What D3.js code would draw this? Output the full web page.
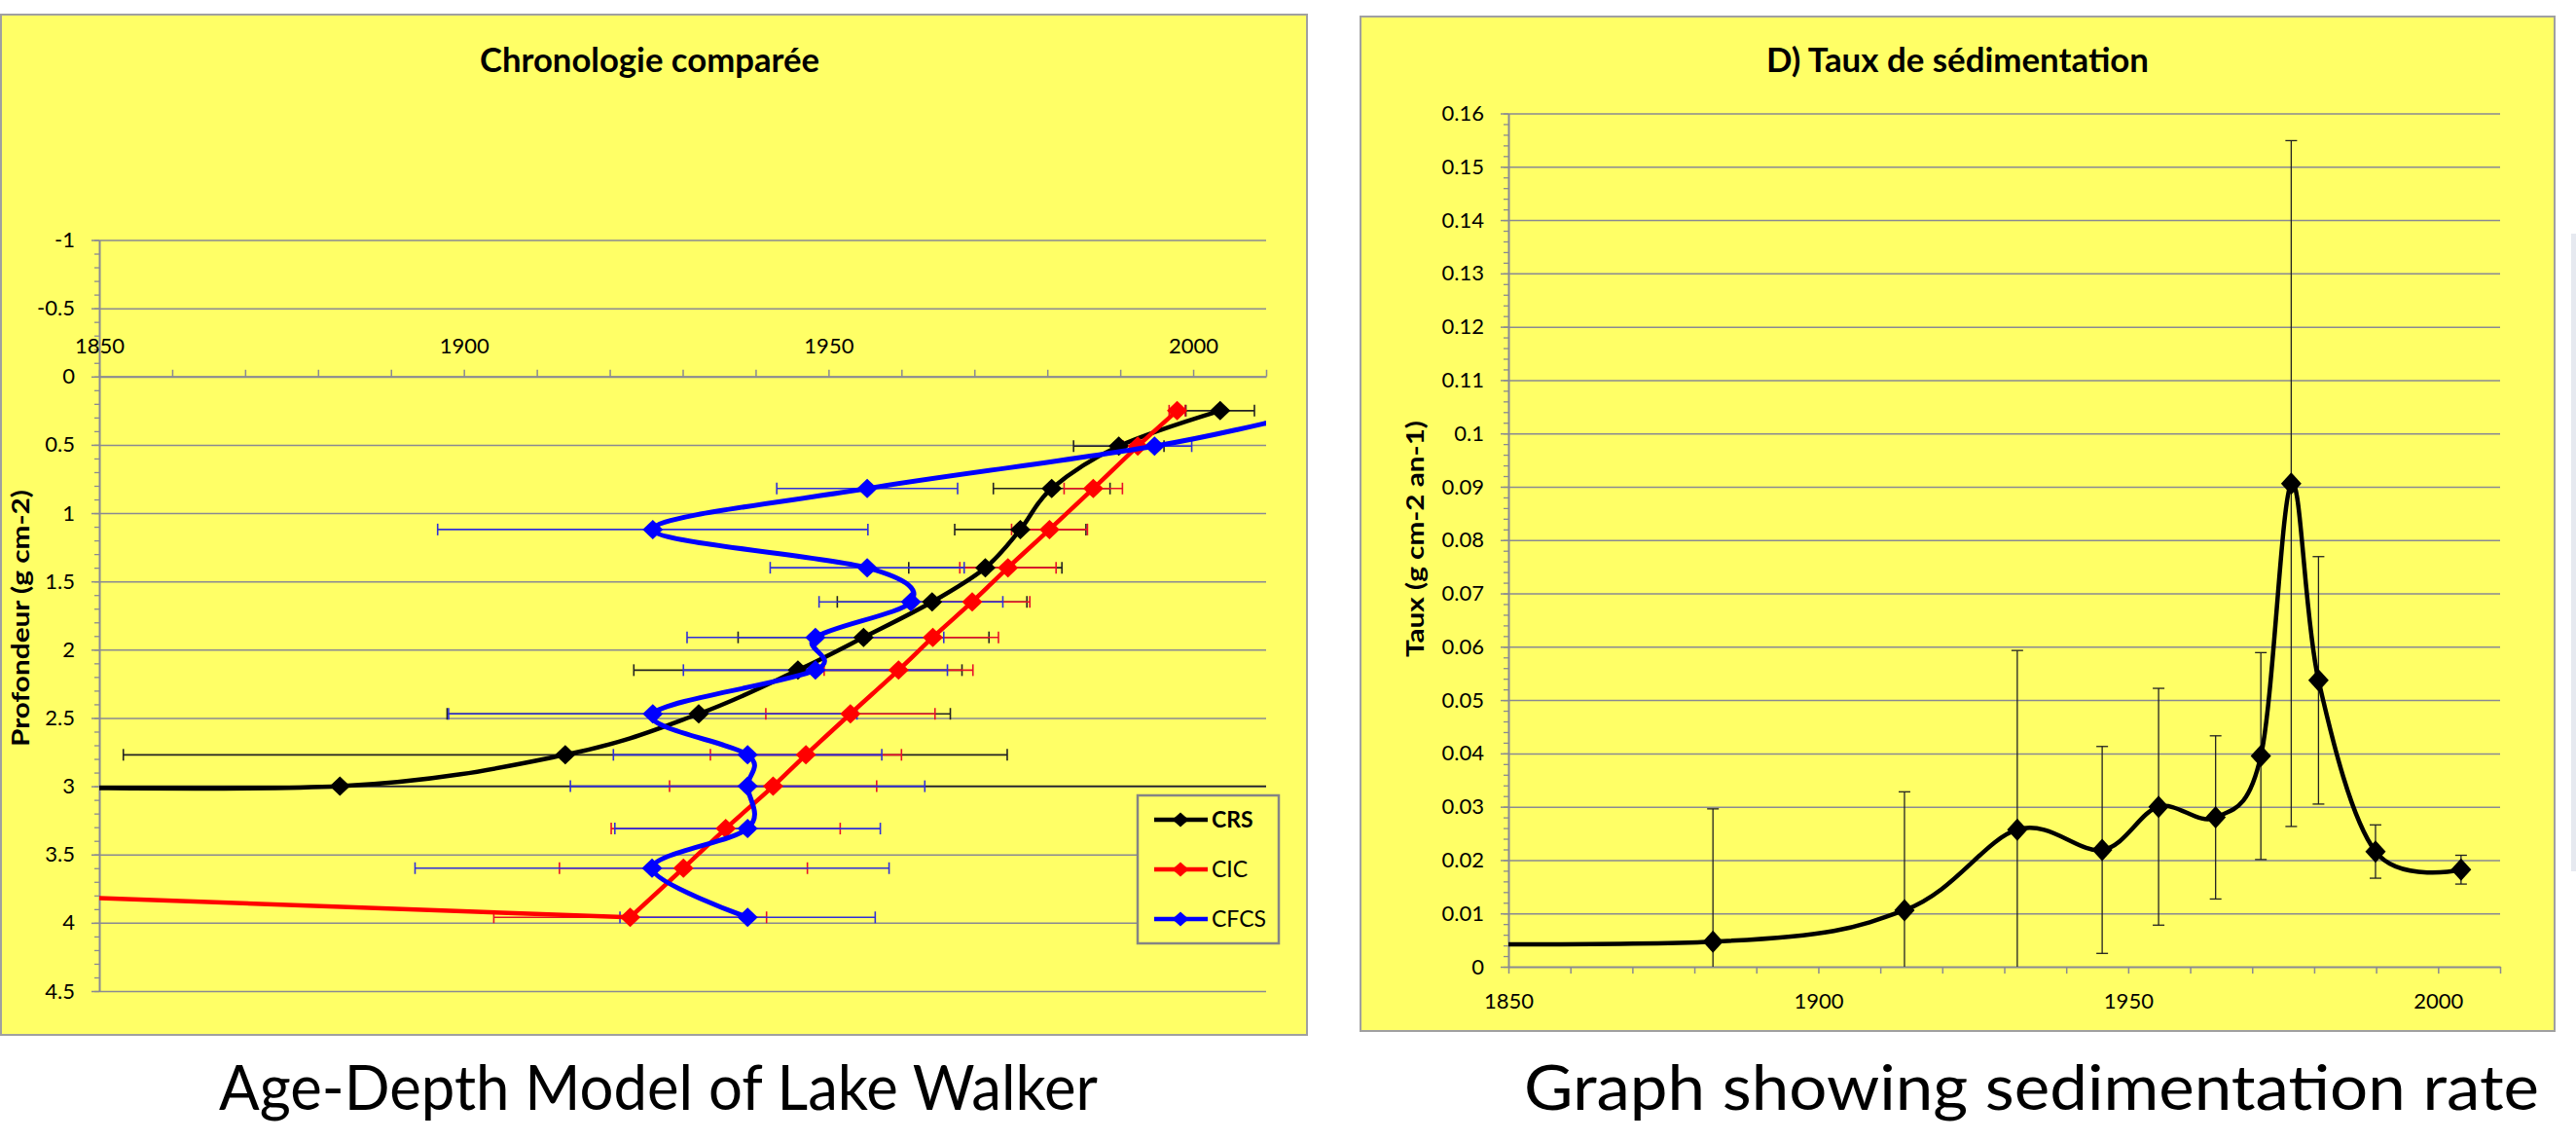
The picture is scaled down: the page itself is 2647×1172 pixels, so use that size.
<!DOCTYPE html>
<html><head><meta charset="utf-8">
<script src="https://cdn.jsdelivr.net/npm/d3@7"></script>
<style>body{margin:0;background:#fff;} svg{display:block;}</style>
</head><body>
<svg id="c" width="2647" height="1172"></svg>
<script>
// ---------- DATA ----------
// Left chart: Chronologie comparée (year vs depth g cm-2). Some end entries lie off-chart (clipped) where the line leaves the plot.
const crsDepth = [0.25, 0.51, 0.82, 1.12, 1.40, 1.65, 1.91, 2.15, 2.47, 2.77, 3.00, 3.00];
const crsYear  = [2003.7, 1989.8, 1980.6, 1976.3, 1971.5, 1964.2, 1954.8, 1945.8, 1932.2, 1913.9, 1883.0, 1830];
const crsErr   = [4.7, 6.2, 8.0, 9.0, 10.5, 13.0, 17.2, 22.5, 34.5, 60.6, 200, null];

const cicDepth = [0.25, 0.51, 0.82, 1.12, 1.40, 1.65, 1.91, 2.15, 2.47, 2.77, 3.00, 3.31, 3.60, 3.96, 3.78];
const cicYear  = [1997.8, 1992.4, 1986.3, 1980.3, 1974.6, 1969.7, 1964.3, 1959.6, 1953.0, 1946.9, 1942.4, 1935.9, 1930.1, 1922.8, 1830];
const cicErr   = [1.1, 2.0, 4.0, 5.2, 6.6, 7.9, 9.0, 10.2, 11.6, 13.1, 14.2, 15.7, 17.0, 18.7, null];

const cfcsDepth = [0.25, 0.51, 0.82, 1.12, 1.40, 1.65, 1.91, 2.15, 2.47, 2.77, 3.00, 3.31, 3.60, 3.96];
const cfcsYear  = [2017, 1994.7, 1955.3, 1925.9, 1955.3, 1961.3, 1948.2, 1948.2, 1925.9, 1938.9, 1938.9, 1938.9, 1925.8, 1938.9];
const cfcsErr   = [null, 5.1, 12.4, 29.5, 13.3, 12.6, 17.6, 18.1, 28.0, 18.4, 24.3, 18.2, 32.5, 17.5];

const seriesNames = ["CRS", "CIC", "CFCS"];
const depthTicks = [-1, -0.5, 0, 0.5, 1, 1.5, 2, 2.5, 3, 3.5, 4, 4.5];
const yearTicksLabels = [1850, 1900, 1950, 2000];

// Right chart: D) Taux de sédimentation
const rateYear  = [1800, 1883.0, 1913.9, 1932.1, 1945.8, 1954.9, 1964.1, 1971.4, 1976.3, 1980.7, 1989.9, 2003.7];
const rateValue = [0.0045, 0.0047, 0.0106, 0.0257, 0.0219, 0.0300, 0.0280, 0.0395, 0.0906, 0.0537, 0.0216, 0.0182];
const rateErr   = [null, 0.0249, 0.0222, 0.0336, 0.0194, 0.0222, 0.0153, 0.0194, 0.0643, 0.0232, 0.0050, 0.0027];
const rateTicks = [0,0.01,0.02,0.03,0.04,0.05,0.06,0.07,0.08,0.09,0.1,0.11,0.12,0.13,0.14,0.15,0.16];

const leftTitle = "Chronologie comparée";
const rightTitle = "D) Taux de sédimentation";
const leftYLabel = "Profondeur (g cm-2)";
const rightYLabel = "Taux (g cm-2 an-1)";
const leftCaption = "Age-Depth Model of Lake Walker";
const rightCaption = "Graph showing sedimentation rate";

// ---------- STYLE ----------
const FONT = "Lato, 'Open Sans', sans-serif";
const YEL = "#FFFF66";
const GRID = "#8a8a92";
const svg = d3.select("#c").style("font-family", FONT);

// third panel strip (edge of next chart)
svg.append("rect").attr("x", 2642).attr("y", 240).attr("width", 5).attr("height", 655).attr("fill", "#e6e9f0");

// panels
svg.append("rect").attr("x", 1).attr("y", 15).attr("width", 1342).attr("height", 1048)
  .attr("fill", YEL).attr("stroke", "#a0a0a0").attr("stroke-width", 2);
svg.append("rect").attr("x", 1398).attr("y", 17).attr("width", 1227).attr("height", 1042)
  .attr("fill", YEL).attr("stroke", "#a0a0a0").attr("stroke-width", 2);

const defs = svg.append("defs");
defs.append("clipPath").attr("id", "clipL").append("rect").attr("x", 102).attr("y", 246).attr("width", 1199).attr("height", 772);
defs.append("clipPath").attr("id", "clipR").append("rect").attr("x", 1550).attr("y", 116).attr("width", 1019).attr("height", 877);

function diamond(w, h) { return `M0,${-h}L${w},0L0,${h}L${-w},0Z`; }
function styleAxis(g, size) {
  g.select(".domain").attr("stroke", GRID).attr("stroke-width", 2);
  g.selectAll(".tick line").attr("stroke", GRID).attr("stroke-width", 1.5);
  g.selectAll("text").attr("fill", "#000").attr("font-size", size).attr("font-family", FONT);
}

// ---------- LEFT CHART ----------
const xL = d3.scaleLinear().domain([1850, 2010]).range([102, 1301]);
const yL = d3.scaleLinear().domain([-1, 4.5]).range([246.5, 1018]);

svg.append("g").attr("transform", "translate(102,0)")
  .call(d3.axisLeft(yL).tickValues(depthTicks).tickSize(-1199).tickFormat(""))
  .call(g => { g.select(".domain").remove(); g.selectAll("line").attr("stroke", GRID).attr("stroke-width", 1.5); });
svg.append("g").attr("transform", "translate(102,0)")
  .call(d3.axisLeft(yL).tickValues(d3.range(-10, 46).map(v => v / 10)).tickSize(5).tickFormat(""))
  .call(g => { g.select(".domain").remove(); g.selectAll("line").attr("stroke", GRID).attr("stroke-width", 1.3); });
svg.append("g").attr("transform", "translate(102,0)")
  .call(d3.axisLeft(yL).tickValues(depthTicks).tickSize(8).tickSizeOuter(0).tickPadding(17).tickFormat(d => String(d)))
  .call(g => styleAxis(g, 22));
svg.append("g").attr("transform", `translate(0,${yL(0)})`)
  .call(d3.axisTop(xL).tickValues(d3.range(1850, 2011, 10)).tickSize(7).tickSizeOuter(0).tickPadding(17)
    .tickFormat(d => yearTicksLabels.includes(d) ? String(d) : ""))
  .call(g => styleAxis(g, 22));

// tail: number of trailing points joined by a straight segment (long off-chart run)
const leftSeries = [
  {name: "CRS", depth: crsDepth, year: crsYear, err: crsErr, color: "#000000", ebColor: "#222222", lw: 4.5, straightTail: false},
  {name: "CIC", depth: cicDepth, year: cicYear, err: cicErr, color: "#FF0000", ebColor: "#e8102a", lw: 4.5, straightTail: true},
  {name: "CFCS", depth: cfcsDepth, year: cfcsYear, err: cfcsErr, color: "#0000FF", ebColor: "#3030d8", lw: 5, straightTail: false}
];

const gL = svg.append("g").attr("clip-path", "url(#clipL)");
leftSeries.forEach(s => {
  const pts = s.year.map((y, i) => ({y, d: s.depth[i], e: s.err[i]})).filter(p => p.e != null);
  const g = gL.append("g").attr("stroke", s.ebColor).attr("stroke-width", 1.6);
  g.selectAll("line.h").data(pts).join("line")
    .attr("x1", p => xL(p.y - p.e)).attr("x2", p => xL(p.y + p.e))
    .attr("y1", p => yL(p.d)).attr("y2", p => yL(p.d));
  g.selectAll("line.c1").data(pts).join("line").attr("class", "c1")
    .attr("x1", p => xL(p.y - p.e)).attr("x2", p => xL(p.y - p.e))
    .attr("y1", p => yL(p.d) - 6).attr("y2", p => yL(p.d) + 6);
  g.selectAll("line.c2").data(pts).join("line").attr("class", "c2")
    .attr("x1", p => xL(p.y + p.e)).attr("x2", p => xL(p.y + p.e))
    .attr("y1", p => yL(p.d) - 6).attr("y2", p => yL(p.d) + 6);
});
const smooth = d3.line().x(p => xL(p[0])).y(p => yL(p[1])).curve(d3.curveCardinal.tension(0));
const straight = d3.line().x(p => xL(p[0])).y(p => yL(p[1]));
leftSeries.forEach(s => {
  const pts = s.year.map((y, i) => [y, s.depth[i]]);
  const paths = s.straightTail ? [smooth(pts.slice(0, -1)), straight(pts.slice(-2))] : [smooth(pts)];
  paths.forEach(d => gL.append("path").attr("d", d).attr("fill", "none").attr("stroke", s.color)
    .attr("stroke-width", s.lw).attr("stroke-linejoin", "round").attr("stroke-linecap", "round"));
  gL.selectAll(null).data(pts).join("path")
    .attr("transform", p => `translate(${xL(p[0])},${yL(p[1])})`)
    .attr("d", diamond(10.5, 10)).attr("fill", s.color);
});

// legend
const lg = svg.append("g");
lg.append("rect").attr("x", 1169).attr("y", 817).attr("width", 145).attr("height", 152)
  .attr("fill", YEL).attr("stroke", "#858585").attr("stroke-width", 2.5);
const legY = [842, 893, 944];
leftSeries.forEach((s, i) => {
  lg.append("line").attr("x1", 1186).attr("x2", 1241).attr("y1", legY[i]).attr("y2", legY[i])
    .attr("stroke", s.color).attr("stroke-width", 4.5);
  lg.append("path").attr("transform", `translate(1213,${legY[i]})`).attr("d", diamond(8.5, 7.5)).attr("fill", s.color);
  lg.append("text").attr("x", 1245).attr("y", legY[i]).attr("dy", "0.36em")
    .attr("font-size", 23).attr("font-weight", i === 0 ? "bold" : "normal").text(seriesNames[i]);
});

svg.append("text").attr("x", 493).attr("y", 74).attr("font-size", 34).attr("font-weight", "bold")
  .attr("textLength", 349).attr("lengthAdjust", "spacingAndGlyphs").text(leftTitle);
svg.append("text").attr("transform", "translate(30,767) rotate(-90)").attr("font-size", 25).attr("font-weight", "bold")
  .attr("textLength", 264).attr("lengthAdjust", "spacingAndGlyphs").text(leftYLabel);

// ---------- RIGHT CHART ----------
const xR = d3.scaleLinear().domain([1850, 2010]).range([1550, 2569]);
const yR = d3.scaleLinear().domain([0, 0.16]).range([993, 116.5]);

svg.append("g").attr("transform", "translate(1550,0)")
  .call(d3.axisLeft(yR).tickValues(rateTicks.slice(1)).tickSize(-1019).tickFormat(""))
  .call(g => { g.select(".domain").remove(); g.selectAll("line").attr("stroke", GRID).attr("stroke-width", 1.5); });
svg.append("g").attr("transform", "translate(1550,0)")
  .call(d3.axisLeft(yR).tickValues(d3.range(0, 81).map(v => v * 0.002)).tickSize(5).tickFormat(""))
  .call(g => { g.select(".domain").remove(); g.selectAll("line").attr("stroke", GRID).attr("stroke-width", 1.3); });
svg.append("g").attr("transform", "translate(1550,0)")
  .call(d3.axisLeft(yR).tickValues(rateTicks).tickSize(8).tickSizeOuter(0).tickPadding(17)
    .tickFormat(d => String(+d.toFixed(2))))
  .call(g => styleAxis(g, 22));
svg.append("g").attr("transform", `translate(0,${yR(0)})`)
  .call(d3.axisBottom(xR).tickValues(d3.range(1850, 2011, 10)).tickSize(7).tickSizeOuter(0).tickPadding(20)
    .tickFormat(d => yearTicksLabels.includes(d) ? String(d) : ""))
  .call(g => styleAxis(g, 22));

const gR = svg.append("g").attr("clip-path", "url(#clipR)");
const rpts = rateYear.map((y, i) => ({y, v: rateValue[i], e: rateErr[i]}));
const reb = gR.append("g").attr("stroke", "#222").attr("stroke-width", 1.3);
const rbar = rpts.filter(p => p.e != null);
reb.selectAll("line.v").data(rbar).join("line").attr("class", "v")
  .attr("x1", p => xR(p.y)).attr("x2", p => xR(p.y)).attr("y1", p => yR(p.v - p.e)).attr("y2", p => yR(p.v + p.e));
reb.selectAll("line.t").data(rbar).join("line").attr("class", "t")
  .attr("x1", p => xR(p.y) - 6).attr("x2", p => xR(p.y) + 6).attr("y1", p => yR(p.v + p.e)).attr("y2", p => yR(p.v + p.e));
reb.selectAll("line.b").data(rbar).join("line").attr("class", "b")
  .attr("x1", p => xR(p.y) - 6).attr("x2", p => xR(p.y) + 6).attr("y1", p => yR(p.v - p.e)).attr("y2", p => yR(p.v - p.e));
const rline = d3.line().x(p => xR(p.y)).y(p => yR(p.v)).curve(d3.curveCardinal.tension(0));
gR.append("path").attr("d", rline(rpts)).attr("fill", "none").attr("stroke", "#000").attr("stroke-width", 4.5);
gR.selectAll(null).data(rpts).join("path")
  .attr("transform", p => `translate(${xR(p.y)},${yR(p.v)})`).attr("d", diamond(10.5, 11.5)).attr("fill", "#000");

svg.append("text").attr("x", 1815).attr("y", 74).attr("font-size", 34).attr("font-weight", "bold")
  .attr("textLength", 393).attr("lengthAdjust", "spacingAndGlyphs").text(rightTitle);
svg.append("text").attr("transform", "translate(1463,675) rotate(-90)").attr("font-size", 25).attr("font-weight", "bold")
  .attr("textLength", 243).attr("lengthAdjust", "spacingAndGlyphs").text(rightYLabel);

// captions
svg.append("text").attr("x", 225).attr("y", 1140).attr("font-size", 63)
  .attr("textLength", 903).attr("lengthAdjust", "spacingAndGlyphs").text(leftCaption);
svg.append("text").attr("x", 1566).attr("y", 1140).attr("font-size", 63)
  .attr("textLength", 1043).attr("lengthAdjust", "spacingAndGlyphs").text(rightCaption);
</script>
</body></html>
